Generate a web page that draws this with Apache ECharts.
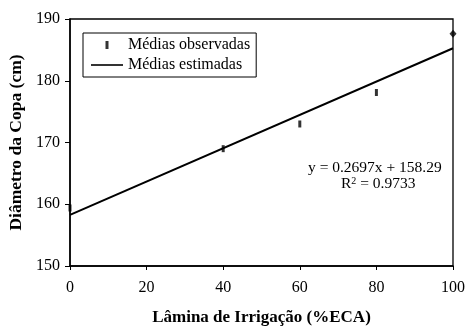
<!DOCTYPE html>
<html>
<head>
<meta charset="utf-8">
<script src="https://cdn.jsdelivr.net/npm/echarts@6/dist/echarts.min.js"></script>
<style>html,body{margin:0;padding:0;background:#fff}#c{width:465px;height:327px}</style>
</head>
<body>
<div id="c"></div>
<script>
const lamina = [0, 40, 60, 80, 100];
const observadas = [159.4, 169.0, 173.0, 178.1, 187.6];
const lineX = [0, 100];
const estimadas = [158.29, 185.26];
const xTicks = [0, 20, 40, 60, 80, 100];
const yTicks = [150, 160, 170, 180, 190];
const equation = 'y = 0.2697x + 158.29';
const r2 = '0.9733';

const font = 'Liberation Serif';
const chart = echarts.init(document.getElementById('c'), null, {renderer: 'canvas'});
chart.setOption({
  animation: false,
  backgroundColor: '#fff',
  grid: {left: 70, right: 12, top: 19, bottom: 61, show: true, borderColor: '#000', borderWidth: 1.3,
         containLabel: false, outerBoundsMode: 'none'},
  xAxis: {
    type: 'value', min: xTicks[0], max: xTicks[xTicks.length - 1], interval: 20,
    name: 'Lâmina de Irrigação (%ECA)', nameLocation: 'middle', nameGap: 43,
    nameTextStyle: {fontFamily: font, fontWeight: 'bold', fontSize: 17, color: '#000'},
    axisLine: {lineStyle: {color: '#000', width: 1.5}},
    axisTick: {show: true, inside: false, length: 4, lineStyle: {color: '#000'}},
    axisLabel: {fontFamily: font, fontSize: 16, color: '#000', margin: 14},
    splitLine: {show: false}
  },
  yAxis: {
    type: 'value', min: yTicks[0], max: yTicks[yTicks.length - 1], interval: 10,
    name: 'Diâmetro da Copa (cm)', nameLocation: 'middle', nameGap: 37,
    nameTextStyle: {fontFamily: font, fontWeight: 'bold', fontSize: 17.5, color: '#000'},
    axisLine: {lineStyle: {color: '#000', width: 1.5}},
    axisTick: {show: true, inside: false, length: 5, lineStyle: {color: '#000'}},
    axisLabel: {fontFamily: font, fontSize: 16, color: '#000', margin: 10},
    splitLine: {show: false}
  },
  legend: {
    orient: 'vertical', left: 83, top: 33,
    borderColor: '#000', borderWidth: 1, padding: [4, 6, 4, 8],
    itemWidth: 32, itemHeight: 8, itemGap: 4,
    textStyle: {fontFamily: font, fontSize: 16, color: '#000', padding: [0, 0, 0, 0]},
    data: [
      {name: 'Médias observadas', icon: 'path://M0,0h3v8h-3z'},
      {name: 'Médias estimadas', icon: 'path://M0,0h32v1.6h-32z'}
    ]
  },
  graphic: [
    {type: 'text', left: 308, top: 160, style: {text: equation, font: '15.5px "Liberation Serif"', fill: '#000'}},
    {type: 'text', left: 341, top: 176, style: {rich: {s: {fontSize: 10, verticalAlign: 'top', padding: [0,0,6,0], fontFamily: font}}, text: 'R{s|2} = ' + r2, font: '15.5px "Liberation Serif"', fill: '#000'}}
  ],
  series: [
    {
      name: 'Médias observadas', type: 'scatter',
      symbol: 'rect', symbolSize: [3, 7],
      itemStyle: {color: '#000'},
      data: lamina.map((x, i) => i === lamina.length - 1
        ? {value: [x, observadas[i]], symbol: 'diamond', symbolSize: [7, 8]}
        : [x, observadas[i]]),
      clip: false, z: 3
    },
    {
      name: 'Médias estimadas', type: 'line',
      showSymbol: false, symbol: 'none',
      lineStyle: {color: '#000', width: 2},
      itemStyle: {color: '#000'},
      data: lineX.map((x, i) => [x, estimadas[i]])
    }
  ]
});
</script>
</body>
</html>
